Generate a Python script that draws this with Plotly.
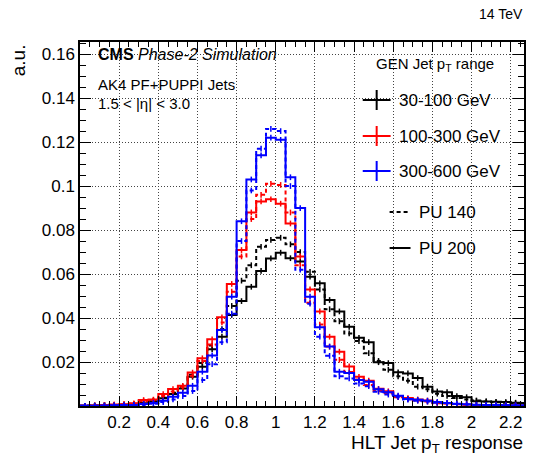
import plotly.graph_objects as go

# ---------------- data (bin width 0.05, left edges 0.00 ... 2.25) ----------------
bin_edges = [round(0.05 * i, 2) for i in range(47)]
bin_centers = [round(0.05 * i + 0.025, 3) for i in range(46)]

black_pu200 = [0.0001, 0.0002, 0.0003, 0.0004, 0.0006, 0.0009, 0.0013, 0.0022, 0.0035, 0.0055,
               0.0080, 0.0133, 0.0179, 0.0258, 0.0315, 0.0414, 0.0477, 0.0542, 0.0614, 0.0671,
               0.0697, 0.0672, 0.0657, 0.0588, 0.0558, 0.0482, 0.0430, 0.0360, 0.0310, 0.0290,
               0.0199, 0.0195, 0.0153, 0.0148, 0.0127, 0.0088, 0.0066, 0.0063, 0.0045, 0.0040,
               0.0022, 0.0020, 0.0019, 0.0018, 0.0015, 0.0014]
black_pu140 = [0.0001, 0.0002, 0.0003, 0.0004, 0.0006, 0.0009, 0.0014, 0.0024, 0.0038, 0.0060,
               0.0088, 0.0142, 0.0195, 0.0275, 0.0350, 0.0455, 0.0570, 0.0640, 0.0724, 0.0755,
               0.0765, 0.0735, 0.0700, 0.0610, 0.0530, 0.0440, 0.0385, 0.0330, 0.0295, 0.0240,
               0.0205, 0.0165, 0.0135, 0.0115, 0.0088, 0.0076, 0.0056, 0.0046, 0.0036, 0.0030,
               0.0025, 0.0021, 0.0017, 0.0015, 0.0012, 0.0010]
red_pu200 = [0.0001, 0.0002, 0.0004, 0.0007, 0.0008, 0.0012, 0.0027, 0.0029, 0.0054, 0.0077,
             0.0092, 0.0152, 0.0217, 0.0303, 0.0403, 0.0555, 0.0709, 0.0880, 0.0930, 0.0940,
             0.0920, 0.0830, 0.0680, 0.0530, 0.0430, 0.0315, 0.0247, 0.0180, 0.0133, 0.0115,
             0.0078, 0.0067, 0.0045, 0.0036, 0.0030, 0.0025, 0.0016, 0.0013, 0.0009, 0.0007,
             0.0005, 0.0004, 0.0003, 0.0003, 0.0002, 0.0002]
red_pu140 = [0.0001, 0.0002, 0.0003, 0.0005, 0.0007, 0.0010, 0.0022, 0.0026, 0.0046, 0.0066,
             0.0085, 0.0138, 0.0205, 0.0280, 0.0380, 0.0520, 0.0680, 0.0850, 0.0960, 0.1010,
             0.1005, 0.0880, 0.0640, 0.0470, 0.0370, 0.0270, 0.0210, 0.0155, 0.0120, 0.0095,
             0.0068, 0.0058, 0.0040, 0.0032, 0.0025, 0.0020, 0.0013, 0.0011, 0.0008, 0.0006,
             0.0004, 0.0003, 0.0003, 0.0002, 0.0002, 0.0001]
blue_pu200 = [0.0001, 0.0001, 0.0002, 0.0003, 0.0004, 0.0005, 0.0009, 0.0014, 0.0024, 0.0042,
              0.0060, 0.0092, 0.0156, 0.0230, 0.0345, 0.0497, 0.0840, 0.1030, 0.1140, 0.1220,
              0.1210, 0.1040, 0.0900, 0.0497, 0.0358, 0.0270, 0.0156, 0.0150, 0.0118, 0.0110,
              0.0076, 0.0063, 0.0047, 0.0032, 0.0028, 0.0024, 0.0018, 0.0014, 0.0010, 0.0008,
              0.0006, 0.0005, 0.0004, 0.0003, 0.0003, 0.0002]
blue_pu140 = [0.0001, 0.0001, 0.0001, 0.0002, 0.0003, 0.0004, 0.0006, 0.0010, 0.0018, 0.0030,
              0.0045, 0.0068, 0.0118, 0.0190, 0.0290, 0.0420, 0.0750, 0.0980, 0.1170, 0.1260,
              0.1250, 0.1000, 0.0620, 0.0465, 0.0315, 0.0228, 0.0135, 0.0125, 0.0102, 0.0090,
              0.0065, 0.0052, 0.0040, 0.0029, 0.0024, 0.0020, 0.0015, 0.0012, 0.0009, 0.0007,
              0.0005, 0.0004, 0.0003, 0.0003, 0.0002, 0.0002]
stat_error = 0.0013  # approximate half-height of the per-bin error bars

x_tickvals = [0.2, 0.4, 0.6, 0.8, 1.0, 1.2, 1.4, 1.6, 1.8, 2.0, 2.2]
x_ticktext = ["0.2", "0.4", "0.6", "0.8", "1", "1.2", "1.4", "1.6", "1.8", "2", "2.2"]
y_tickvals = [0.02, 0.04, 0.06, 0.08, 0.10, 0.12, 0.14, 0.16]
y_ticktext = ["0.02", "0.04", "0.06", "0.08", "0.1", "0.12", "0.14", "0.16"]

legend_ranges = ["30-100 GeV", "100-300 GeV", "300-600 GeV"]
legend_colors = ["#000000", "#ff0000", "#0000ff"]
pu_labels = ["PU 140", "PU 200"]

# ---------------- figure ----------------
W, H = 535, 462
L, R, T, B = 80, 9, 42, 56
PW, PH = W - L - R, H - T - B
FONT = "Liberation Sans, Arial, Helvetica, sans-serif"
DASH = "4px,3px"


def px(xp):
    return (xp - L) / PW


def py(yp):
    return (H - B - yp) / PH


fig = go.Figure()

series = [
    (black_pu140, legend_colors[0], DASH),
    (black_pu200, legend_colors[0], "solid"),
    (red_pu140, legend_colors[1], DASH),
    (red_pu200, legend_colors[1], "solid"),
    (blue_pu140, legend_colors[2], DASH),
    (blue_pu200, legend_colors[2], "solid"),
]
for vals, col, dash in series:
    fig.add_trace(go.Scatter(
        x=bin_edges, y=list(vals) + [vals[-1]],
        mode="lines", line=dict(color=col, width=2, dash=dash, shape="hv"),
        showlegend=False, hoverinfo="skip"))
    fig.add_trace(go.Scatter(
        x=bin_centers, y=vals, mode="markers", marker=dict(size=1, color=col, opacity=0),
        error_y=dict(type="constant", value=stat_error, color=col, thickness=1.5, width=0),
        showlegend=False, hoverinfo="skip"))

shapes = []
# white boxes hiding the grid behind text / legend
for x0, x1, y0, y1 in [(80, 295, 42, 66), (80, 240, 69, 115), (357, 526, 42, 188), (386, 526, 192, 262)]:
    shapes.append(dict(type="rect", xref="paper", yref="paper", x0=px(x0), x1=px(x1),
                       y0=py(y1), y1=py(y0), fillcolor="white", line=dict(width=0), layer="between"))

annotations = []
annotations.append(dict(text="14 TeV", xref="paper", yref="paper", x=px(527), y=py(14),
                        xanchor="right", yanchor="middle", showarrow=False,
                        font=dict(family=FONT, size=14, color="black")))
annotations.append(dict(text="<b>CMS</b> <i>Phase-2 Simulation</i>", xref="paper", yref="paper",
                        x=px(96), y=py(54), xanchor="left", yanchor="middle", showarrow=False,
                        font=dict(family=FONT, size=16, color="black")))
annotations.append(dict(text="AK4 PF+PUPPI Jets", xref="paper", yref="paper",
                        x=px(96), y=py(84), xanchor="left", yanchor="middle", showarrow=False,
                        font=dict(family=FONT, size=15, color="black")))
annotations.append(dict(text="1.5 < |η| < 3.0", xref="paper", yref="paper",
                        x=px(96), y=py(104), xanchor="left", yanchor="middle", showarrow=False,
                        font=dict(family=FONT, size=15, color="black")))
annotations.append(dict(text="HLT Jet p<sub>T</sub> response", xref="paper", yref="paper",
                        x=px(527), y=py(444), xanchor="right", yanchor="middle", showarrow=False,
                        font=dict(family=FONT, size=19, color="black")))
annotations.append(dict(text="a.u.", xref="paper", yref="paper", x=px(18), y=1.0,
                        xanchor="center", yanchor="top", textangle=-90, showarrow=False,
                        font=dict(family=FONT, size=19, color="black")))
annotations.append(dict(text="GEN Jet p<sub>T</sub> range", xref="paper", yref="paper",
                        x=px(437), y=py(64), xanchor="center", yanchor="middle", showarrow=False,
                        font=dict(family=FONT, size=15, color="black")))
leg_y = [100, 136, 171]
for lab, col, yy in zip(legend_ranges, legend_colors, leg_y):
    shapes.append(dict(type="line", xref="paper", yref="paper", x0=px(364), x1=px(392),
                       y0=py(yy), y1=py(yy), line=dict(color=col, width=2)))
    shapes.append(dict(type="line", xref="paper", yref="paper", x0=px(378), x1=px(378),
                       y0=py(yy - 10), y1=py(yy + 10), line=dict(color=col, width=2)))
    annotations.append(dict(text=lab, xref="paper", yref="paper", x=px(398), y=py(yy),
                            xanchor="left", yanchor="middle", showarrow=False,
                            font=dict(family=FONT, size=17, color="black")))
for lab, dash, yy in zip(pu_labels, [DASH, "solid"], [212, 248]):
    shapes.append(dict(type="line", xref="paper", yref="paper", x0=px(391), x1=px(412),
                       y0=py(yy), y1=py(yy), line=dict(color="black", width=2, dash=dash)))
    annotations.append(dict(text=lab, xref="paper", yref="paper", x=px(419), y=py(yy),
                            xanchor="left", yanchor="middle", showarrow=False,
                            font=dict(family=FONT, size=17, color="black")))

axis_common = dict(showline=True, linecolor="black", linewidth=1.5, mirror="ticks",
                   ticks="inside", tickcolor="black", tickwidth=1, zeroline=False,
                   showgrid=True, gridcolor="#444444", gridwidth=1, griddash="1px,2px",
                   tickfont=dict(family=FONT, size=17, color="black"))

fig.update_layout(
    width=W, height=H, margin=dict(l=L, r=R, t=T, b=B, pad=0),
    paper_bgcolor="white", plot_bgcolor="white",
    xaxis=dict(range=[0, 2.268], tickvals=x_tickvals, ticktext=x_ticktext, ticklen=10,
               minor=dict(ticks="inside", ticklen=5, dtick=0.05, tick0=0, tickcolor="black", showgrid=False),
               **axis_common),
    yaxis=dict(range=[0, 0.1655], tickvals=y_tickvals, ticktext=y_ticktext, ticklen=11,
               minor=dict(ticks="inside", ticklen=6, dtick=0.005, tick0=0, tickcolor="black", showgrid=False),
               **axis_common),
    shapes=shapes, annotations=annotations,
)

fig.write_html("out.html")
